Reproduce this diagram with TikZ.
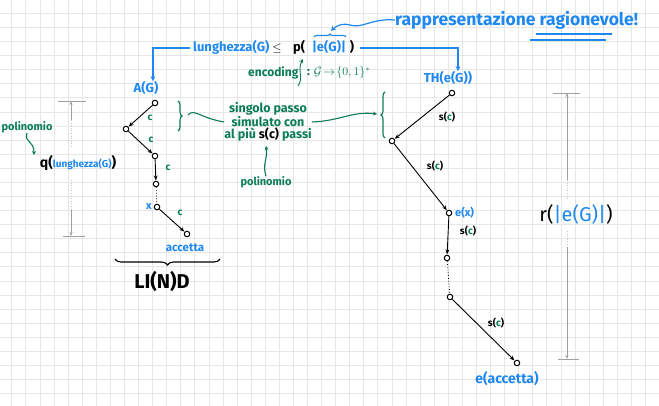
\documentclass[tikz,border=0pt]{standalone}
\usepackage{fontspec}
\setmainfont{Fira Sans}
\usetikzlibrary{arrows.meta,decorations.pathreplacing}
\definecolor{hb}{RGB}{30,136,240}
\definecolor{hg}{RGB}{10,125,85}
\definecolor{hgr}{RGB}{160,160,160}
\definecolor{gridc}{RGB}{230,230,230}
\newcommand{\fs}[1]{\fontsize{#1}{#1}\selectfont}
\begin{document}
\begin{tikzpicture}[x=1pt,y=-1pt,
  st/.style={circle,draw,fill=white,line width=1pt,inner sep=0pt,minimum size=5.5pt},
  ed/.style={line width=0.9pt,-{Stealth[length=5pt,width=4pt]},shorten >=0.3pt},
  dotted edge/.style={line width=0.8pt,dotted},
  cl/.style={text=hg,font=\fs{10}\bfseries,inner sep=0pt},
  sl/.style={font=\fs{10}\bfseries,inner sep=0pt},
  bt/.style={text=hb,inner sep=0pt},
  gt/.style={text=hg,inner sep=0pt},
  hdr/.style={font=\fs{13}\bfseries,inner sep=0pt},
  meas/.style={hgr,line width=0.6pt},
  measarr/.style={hgr,line width=0.6pt,-{Stealth[length=4pt,width=3pt]}},
  measdot/.style={hgr!60,line width=0.6pt,dotted},
  barrow/.style={hb,line width=1.2pt,-{Stealth[length=5pt,width=5pt]}},
  garrow/.style={hg,line width=1.1pt,-{Stealth[length=4pt,width=4pt]}},
  gline/.style={hg,line width=1.1pt},
  brc/.style={decorate,line width=1.1pt}
]
\useasboundingbox (0,0) rectangle (659,406);
\fill[white] (0,0) rectangle (659,406);
% grid
\foreach \i in {0,...,46} \draw[gridc,line width=0.6pt] ({11.7+\i*14.08},0) -- ({11.7+\i*14.08},406);
\foreach \j in {0,...,28} \draw[gridc,line width=0.6pt] (0,{13.3+\j*14.08}) -- (659,{13.3+\j*14.08});

% ---------- top texts ----------
\node[bt,font=\fs{17.5}\bfseries,anchor=west] (rap) at (395,20) {rappresentazione ragionevole!};
\coordinate (ul1a) at (536,34); \coordinate (ul1b) at (612,34);
\coordinate (ul2a) at (530,40); \coordinate (ul2b) at (606,40);
\draw[hb,line width=1.2pt] (ul1a) -- (ul1b);
\draw[hb,line width=1.2pt] (ul2a) -- (ul2b);

\node[hdr,text=hb,anchor=base west] (len) at (193,52) {lunghezza(G)};
\node[hdr,anchor=base] (leq) at (277,52) {$\leq$};
\node[hdr,anchor=base] (pp) at (299,52) {p(};
\node[hdr,text=hb,anchor=base] (eG) at (329,52) {|e(G)|};
\node[hdr,anchor=base] (cp) at (352,52) {)};
\coordinate (eGbL) at (314,37);
\coordinate (eGbR) at (346,37);
\draw[hb,brc,decoration={brace,amplitude=3pt}] (eGbL) -- (eGbR);
\coordinate (eGtip) at (331,31);
\draw[barrow] (rap.west) .. controls (372,18) and (362,29) .. (350,25) .. controls (344,23) and (337,25) .. (eGtip);

% encoding
\node[gt,font=\fs{12}\bfseries,anchor=west] (enc) at (248,73) {encoding};
\node[gt,font=\fs{12}\bfseries,anchor=west] (encmap) at (307,73) {: $\mathcal{G}\!\to\!\{0,1\}^{*}$};
\coordinate (encS) at (298,86);
\coordinate (encT) at (303,59);
\draw[garrow,line width=0.9pt] (encS) .. controls (304,78) and (297,70) .. (encT);

% A(G) and TH(e(G))
\node[bt,font=\fs{13}\bfseries] (AG) at (146,88) {A(G)};
\node[bt,font=\fs{13}\bfseries] (TH) at (448,78) {TH(e(G))};
\coordinate (lenL) at (190,48);
\coordinate (lenR) at (360,48);
\draw[barrow] (lenL) -- (153,48) -- (AG.north -| 153,0);
\draw[barrow] (lenR) -- (458,48) -- (TH.north -| 458,0);

% ---------- left chain ----------
\node[st] (n1) at (155,103) {};
\node[st] (n2) at (126,129) {};
\node[st] (n3) at (155,156) {};
\node[st] (n4) at (156,184) {};
\node[st] (n5) at (157,207) {};
\node[st] (n6) at (187,234) {};
\draw[ed] (n1) -- (n2);
\draw[ed] (n2) -- (n3);
\draw[ed] (n3) -- (n4);
\draw[dotted edge] (n4) -- (n5);
\draw[ed] (n5) -- (n6);
\node[cl] (c1) at (150,118) {c};
\node[cl] (c2) at (151,140) {c};
\node[cl] (c3) at (168,168) {c};
\node[cl] (c4) at (180,213) {c};
\node[bt,font=\fs{11}\bfseries,anchor=east] (xl) at (152,207) {x};
\node[bt,font=\fs{11.5}\bfseries] (acc) at (185,248) {accetta};

% LI(N)D
\coordinate (bbR) at (220,259);
\coordinate (bbL) at (115,259);
\draw[brc,decoration={brace,amplitude=6pt}] (bbR) -- (bbL);
\node[font=\fs{20}\bfseries,inner sep=0pt] (lind) at (162,282) {LI(N)D};

% green brace and annotation
\coordinate (gb1t) at (178,101);
\coordinate (gb1b) at (178,131);
\draw[hg,brc,decoration={brace,amplitude=4pt}] (gb1t) -- (gb1b);
\node[gt,font=\fs{12.5}\bfseries,align=center] (sing) at (268,122)
  {\fontsize{12.5}{15}\selectfont singolo passo\\simulato con\\al più \textcolor{black}{s(c)} passi};
\draw[gline] (188,115) .. controls (194,108) and (200,118) .. (sing.west);
\node[gt,font=\fs{11}\bfseries] (pol2) at (266,182) {polinomio};
\draw[garrow] (pol2.north) .. controls (262,164) and (268,158) .. (266,146);

% right green brace
\coordinate (gb2b) at (385,138);
\coordinate (gb2t) at (385,92);
\draw[hg,brc,decoration={brace,amplitude=4pt}] (gb2b) -- (gb2t);
\draw[garrow] (sing.east) .. controls (340,121) and (352,111) .. (377,114);

% left polinomio and q
\node[gt,font=\fs{11}\bfseries] (pol1) at (27,127) {polinomio};
\node[font=\fs{14}\bfseries,inner sep=0pt] (q) at (78,163) {q(\textcolor{hb}{\fs{10}lunghezza(G)})};
\draw[garrow] (pol1.south) .. controls (24,143) and (34,140) .. (34,155);

% left measure
\coordinate (lmT) at (71,101);
\coordinate (lmB) at (71,236);
\draw[meas] (58,101) -- (86,101);
\draw[meas] (63,236) -- (85,236);
\draw[measarr] (71,120) -- (lmT);
\draw[measdot] (71,120) -- (71,148);
\draw[measdot] (71,180) -- (71,210);
\draw[measarr] (71,210) -- (lmB);

% ---------- right chain ----------
\node[st] (m1) at (452,93) {};
\node[st] (m2) at (392,141) {};
\node[st] (m3) at (449,213) {};
\node[st] (m4) at (447,258) {};
\node[st] (m5) at (450,297) {};
\node[st] (m6) at (517,363) {};
\draw[ed] (m1) -- (m2);
\draw[ed] (m2) -- (m3);
\draw[ed] (m3) -- (m4);
\draw[dotted edge] (m4) -- (m5);
\draw[ed] (m5) -- (m6);
\node[sl] (s1) at (447,117) {s(\textcolor{hg}{c})};
\node[sl] (s2) at (435,166) {s(\textcolor{hg}{c})};
\node[sl] (s3) at (468,231) {s(\textcolor{hg}{c})};
\node[sl] (s4) at (496,323) {s(\textcolor{hg}{c})};
\node[bt,font=\fs{11}\bfseries,anchor=west] (ex) at (455,213) {e(x)};
\node[bt,font=\fs{14}\bfseries] (eacc) at (507,379) {e(accetta)};

% right measure
\coordinate (rmT) at (567,93);
\coordinate (rmB) at (567,359);
\draw[meas] (553,93) -- (580,93);
\draw[meas] (558,359) -- (579,359);
\draw[measarr] (567,180) -- (rmT);
\draw[measdot] (567,180) -- (567,200);
\draw[measdot] (567,231) -- (567,247);
\draw[measarr] (567,247) -- (rmB);
\node[font=\fs{20},inner sep=0pt] (r) at (576,215) {r(\textcolor{hb}{|e(G)|})};
\end{tikzpicture}
\end{document}
